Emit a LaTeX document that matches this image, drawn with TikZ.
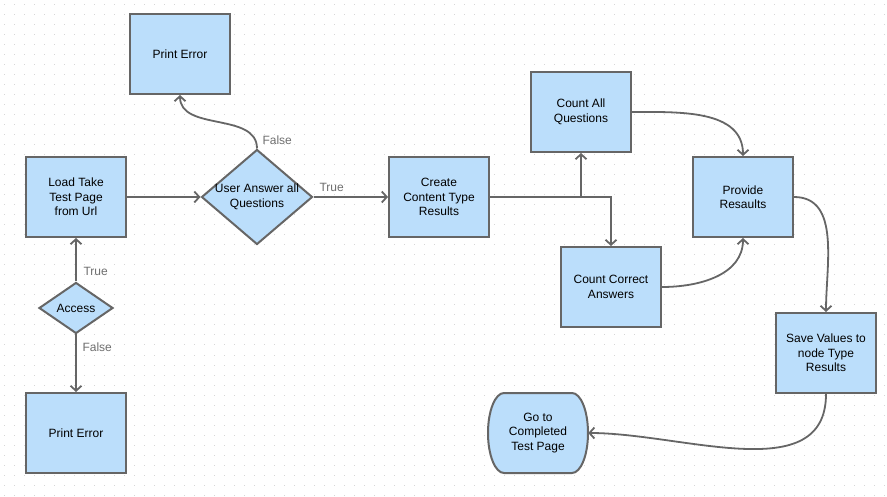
\documentclass[tikz,border=0pt]{standalone}
\usepackage{fontspec}
\setmainfont{Liberation Sans}
\usetikzlibrary{arrows.meta,shapes.geometric}
\definecolor{boxfill}{HTML}{BBDEFB}
\definecolor{boxline}{HTML}{666666}
\definecolor{gridgray}{HTML}{D6D6D6}
\definecolor{labgray}{HTML}{6E6E6E}
\tikzset{
  stepbox/.style={draw=boxline, fill=boxfill, line width=2pt, minimum width=100pt,
    minimum height=80pt, align=center, font=\fontsize{12}{14.5}\selectfont},
  endbox/.style={minimum width=100pt, minimum height=80pt, align=center,
    font=\fontsize{12}{14.5}\selectfont},
  decision/.style={diamond, draw=boxline, fill=boxfill, line width=2pt, inner sep=0pt},
  dtext/.style={align=center, font=\fontsize{12}{14.5}\selectfont},
  flow/.style={draw=boxline, line width=1.8pt, -{Straight Barb[length=5pt,width=11pt]}},
  cond/.style={text=labgray, anchor=west, font=\fontsize{12}{14}\selectfont},
}
\begin{document}
\begin{tikzpicture}[x=1pt,y=1pt]
\useasboundingbox (0,0) rectangle (887,-497);
% dotted paper
\foreach \y in {-5,-15,...,-495}
\draw[gridgray, line width=1pt, dash pattern=on 1pt off 9pt] (4,\y) -- (887,\y);

% terminal outline (bulged sides)
\draw[shift={(538,-433)}, draw=boxline, fill=boxfill, line width=2pt]
  (-34,40) -- (34,40) arc[start angle=90, end angle=-90, x radius=16, y radius=40]
  -- (-34,-40) arc[start angle=270, end angle=90, x radius=16, y radius=40] -- cycle;

% boxes
\node[stepbox] (load) at (76,-197) {Load Take\\Test Page\\from Url};
\node[stepbox] (perrtop) at (180,-54) {Print Error};
\node[decision, minimum width=111pt, minimum height=95pt,
  label={[name=asktext, dtext]center:{User Answer all\\Questions}}] (ask) at (257,-197) {};
\node[stepbox] (create) at (439,-197) {Create\\Content Type\\Results};
\node[stepbox] (cntall) at (581,-112) {Count All\\Questions};
\node[stepbox] (cntok) at (611,-287) {Count Correct\\Answers};
\node[stepbox] (provide) at (743,-197) {Provide\\Resaults};
\node[stepbox] (save) at (826,-353) {Save Values to\\node Type\\Results};
\node[endbox] (goto) at (538,-433) {Go to\\Completed\\Test Page};
\node[decision, minimum width=74pt, minimum height=51pt,
  label={[name=acctext, dtext]center:Access}] (access) at (76,-308) {};
\node[stepbox] (perrbot) at (76,-433) {Print Error};

% connectors
\draw[flow] (load.east) -- (ask.west);
\draw[flow] (ask.north) to[out=90,in=-90] (perrtop.south);
\draw[flow] (ask.east) -- (create.west);
\draw[flow] (create.east) -| (cntall.south);
\draw[flow] (create.east) -| (cntok.north);
\draw[flow] (cntall.east) to[out=0,in=90] (provide.north);
\draw[flow] (cntok.east) to[out=0,in=-90] (provide.south);
\draw[flow] (provide.east) to[out=0,in=90] (save.north);
\draw[flow] (save.south) to[out=-90,in=0] (goto.east);
\draw[flow] (access.north) -- (load.south);
\draw[flow] (access.south) -- (perrbot.north);

% branch labels
\node[cond] (askno) at (259,-140) {False};
\node[cond] (askyes) at (316,-187) {True};
\node[cond] (accyes) at (80,-271) {True};
\node[cond] (accno) at (79,-347) {False};
\end{tikzpicture}
\end{document}
